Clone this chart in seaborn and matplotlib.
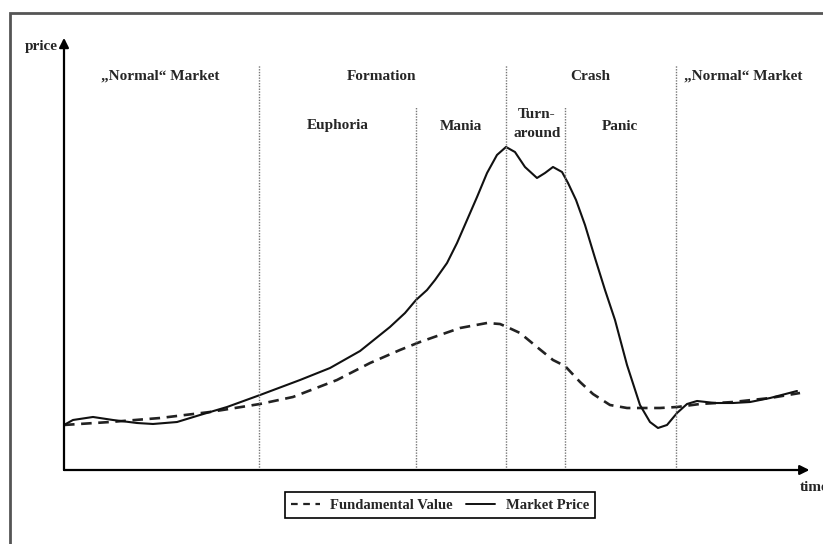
import matplotlib
matplotlib.use("Agg")
import matplotlib.pyplot as plt
import seaborn as sns
import pandas as pd
from matplotlib.patches import Rectangle
from matplotlib.lines import Line2D

# ---- data (time 0..100, price 0..100) ----
market_t = [0, 1.21, 3.91, 6.61, 9.85, 12.01, 15.25, 18.35, 22.00, 26.45, 31.85, 35.90, 39.95,
            43.99, 46.02, 47.50, 48.99, 50.07, 51.69, 53.04, 54.39, 55.74, 57.09, 58.43, 59.65,
            60.86, 62.21, 63.83, 64.91, 65.99, 67.21, 68.02, 69.10, 70.31, 71.66, 73.01, 74.36,
            75.98, 77.73, 79.08, 80.16, 81.38, 82.73, 84.08, 85.43, 87.85, 90.28, 92.58, 95.28,
            98.92]
market_p = [10.47, 11.63, 12.33, 11.63, 10.93, 10.70, 11.16, 12.79, 14.65, 17.44, 20.93, 23.72,
            27.67, 33.26, 36.51, 39.53, 41.86, 44.19, 48.14, 52.79, 58.14, 63.49, 69.07, 73.26,
            75.12, 73.95, 70.47, 67.91, 69.07, 70.47, 69.30, 66.74, 62.79, 56.98, 49.30, 41.86,
            34.88, 24.42, 15.12, 11.16, 9.77, 10.47, 13.26, 15.35, 16.05, 15.58, 15.58, 15.81,
            16.74, 18.37]
fund_t = [0, 6.21, 12.96, 19.70, 26.45, 30.90, 36.84, 41.30, 45.34, 48.04, 50.74, 53.44, 57.09,
          58.84, 59.78, 61.54, 63.83, 65.99, 67.61, 69.64, 71.39, 73.68, 75.98, 80.43, 82.73,
          85.83, 90.28, 95.28, 99.33]
fund_p = [10.47, 11.16, 12.09, 13.49, 15.35, 16.98, 20.93, 24.88, 27.91, 29.77, 31.40, 33.02,
          34.19, 33.95, 33.26, 31.86, 28.60, 25.58, 24.19, 20.47, 17.67, 15.12, 14.42, 14.42,
          14.65, 15.35, 15.81, 16.74, 17.91]

phase_bounds = [26.3, 47.5, 59.6, 67.6, 82.6]
phase_tops = [94.2, 84.4, 94.2, 84.4, 94.2]
top_labels = ["\u201eNormal\u201c Market", "Formation", "Crash", "\u201eNormal\u201c Market"]
top_label_x = [13.0, 42.9, 71.0, 91.6]
sub_labels = ["Euphoria", "Mania", "Turn-\naround", "Panic"]
sub_label_x = [37.0, 53.6, 63.8, 75.0]
sub_label_y = [80.0, 80.0, 80.5, 80.0]
legend_labels = ["Fundamental Value", "Market Price"]

df_m = pd.DataFrame({"time": market_t, "price": market_p})
df_f = pd.DataFrame({"time": fund_t, "price": fund_p})

sns.set_style("white")
plt.rcParams["font.family"] = ["Liberation Serif", "DejaVu Serif"]
plt.rcParams["font.weight"] = "bold"

W, H = 823, 544
fig = plt.figure(figsize=(W / 100, H / 100), dpi=100)
ax = fig.add_axes([64 / W, (H - 470) / H, 741 / W, 430 / H])
ax.set_xlim(0, 100)
ax.set_ylim(0, 100)

sns.lineplot(data=df_f, x="time", y="price", ax=ax, color="#222222", lw=1.9,
             sort=False, estimator=None)
ax.lines[-1].set_dashes((4, 2.5))
ax.lines[-1].set_solid_joinstyle("round")
sns.lineplot(data=df_m, x="time", y="price", ax=ax, color="#111111", lw=1.5,
             sort=False, estimator=None)
ax.lines[-1].set_solid_joinstyle("round")

for xb, yt in zip(phase_bounds, phase_tops):
    ax.vlines(xb, 0, yt, colors="#777777", linestyles=(0, (1, 1)), lw=1.0)

for lab, x in zip(top_labels, top_label_x):
    ax.text(x, 91.6, lab, ha="center", va="center", fontsize=11, fontweight="bold")
for lab, x, y in zip(sub_labels, sub_label_x, sub_label_y):
    ax.text(x, y, lab, ha="center", va="center", fontsize=11, fontweight="bold",
            linespacing=1.55)

for s in ax.spines.values():
    s.set_visible(False)
ax.set_xticks([])
ax.set_yticks([])
ax.set_xlabel("")
ax.set_ylabel("")

ax.annotate("", xy=(0, 1.005), xytext=(0, 0), xycoords="axes fraction",
            arrowprops=dict(arrowstyle="-|>", lw=1.6, color="black", mutation_scale=14,
                            shrinkA=0, shrinkB=0), annotation_clip=False)
ax.annotate("", xy=(1.006, 0), xytext=(0, 0), xycoords="axes fraction",
            arrowprops=dict(arrowstyle="-|>", lw=1.6, color="black", mutation_scale=14,
                            shrinkA=0, shrinkB=0), annotation_clip=False)
ax.text(-0.009, 0.984, "price", transform=ax.transAxes, ha="right", va="center",
        fontsize=11, fontweight="bold")
ax.text(0.993, -0.040, "time", transform=ax.transAxes, ha="left", va="center",
        fontsize=11, fontweight="bold", clip_on=False)

handles = [Line2D([], [], color="#222222", lw=1.6, dashes=(3, 2.5)),
           Line2D([], [], color="#111111", lw=1.4)]
leg = fig.legend(handles, legend_labels, loc="center",
                 bbox_to_anchor=(440 / W, (H - 505) / H), ncol=2, frameon=True,
                 fancybox=False, edgecolor="black", framealpha=1,
                 prop={"size": 10.5, "weight": "bold"}, handlelength=2.0,
                 columnspacing=0.9, handletextpad=0.7, borderpad=0.45,
                 borderaxespad=0.3)
leg.get_frame().set_linewidth(1.2)

fig.add_artist(Rectangle((10 / W, -0.1), 1.2, (H - 13) / H + 0.1,
                         transform=fig.transFigure, fill=False, edgecolor="#555555",
                         lw=2.0))

fig.savefig("out.png", dpi=100)
